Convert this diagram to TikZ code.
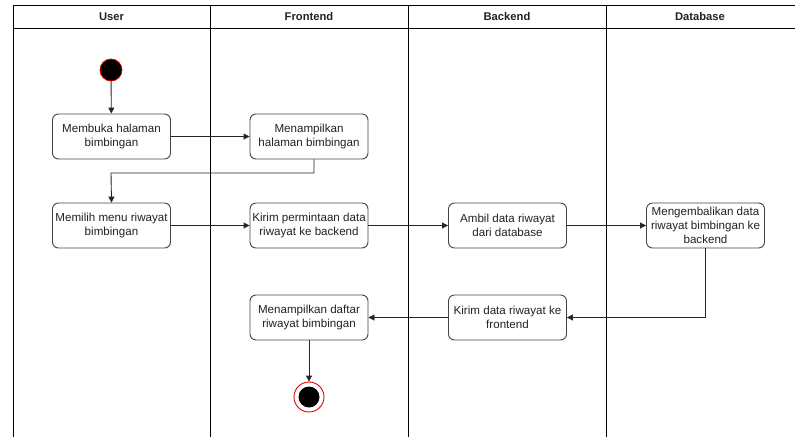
\documentclass[tikz,border=0pt]{standalone}
\usepackage{fontspec}
\setmainfont{Liberation Sans}
\usetikzlibrary{arrows.meta}
\definecolor{boxline}{HTML}{444444}
\definecolor{txt}{HTML}{222222}
\definecolor{startred}{HTML}{E00000}
\begin{document}
\begin{tikzpicture}[x=1pt,y=-1pt,
  lane/.style={draw=black,line width=0.9pt},
  act/.style={draw=boxline,line width=0.9pt,rounded corners=6pt,fill=white,
    minimum width=118pt,minimum height=45pt,align=center,inner sep=1pt,
    font=\fontsize{11.6}{14}\selectfont,text=txt},
  hdr/.style={font=\fontsize{11.2}{12}\selectfont\bfseries,text=txt},
  flow/.style={draw=black!85,line width=0.9pt,-{Triangle[length=6pt,width=6pt]}}]
\useasboundingbox (0,0) rectangle (795,437);
\fill[white] (0,0) rectangle (795,437);

% swimlanes
\draw[lane] (13,437) -- (13,5) -- (800,5);
\draw[lane] (13,28) -- (800,28);
\draw[lane] (210,5) -- (210,437);
\draw[lane] (408,5) -- (408,437);
\draw[lane] (606,5) -- (606,437);
\node[hdr] (hUser) at (111.5,16.5) {User};
\node[hdr] (hFront) at (309,16.5) {Frontend};
\node[hdr] (hBack) at (507,16.5) {Backend};
\node[hdr] (hDb) at (700,16.5) {Database};

% start and end
\node[circle,fill=black,draw=startred,line width=0.8pt,minimum size=22pt,inner sep=0pt] (start) at (111,70) {};
\node[circle,draw=startred,fill=white,line width=0.9pt,minimum size=30pt,inner sep=0pt] (endo) at (309,397) {};
\node[circle,fill=black,minimum size=21pt,inner sep=0pt] (endi) at (309,397) {};

% activities
\node[act] (a1) at (111.5,136.5) {Membuka halaman\\bimbingan};
\node[act] (a2) at (309,136.5) {Menampilkan\\halaman bimbingan};
\node[act] (a3) at (111.5,225.5) {Memilih menu riwayat\\bimbingan};
\node[act] (a4) at (309,225.5) {Kirim permintaan data\\riwayat ke backend};
\node[act] (a5) at (507.5,225.5) {Ambil data riwayat\\dari database};
\node[act] (a6) at (705.5,225.5) {Mengembalikan data\\riwayat bimbingan ke\\backend};
\node[act] (a7) at (507.5,317.5) {Kirim data riwayat ke\\frontend};
\node[act] (a8) at (309,317.5) {Menampilkan daftar\\riwayat bimbingan};

% flows
\draw[flow] (start) -- (a1);
\draw[flow] (a1) -- (a2);
\draw[flow] (a2.south -| 314,0) |- (111,173) -- (a3.north);
\draw[flow] (a3) -- (a4);
\draw[flow] (a4) -- (a5);
\draw[flow] (a5) -- (a6);
\draw[flow] (a6.south) |- (a7.east);
\draw[flow] (a7) -- (a8);
\draw[flow] (a8) -- (endo);
\end{tikzpicture}
\end{document}
